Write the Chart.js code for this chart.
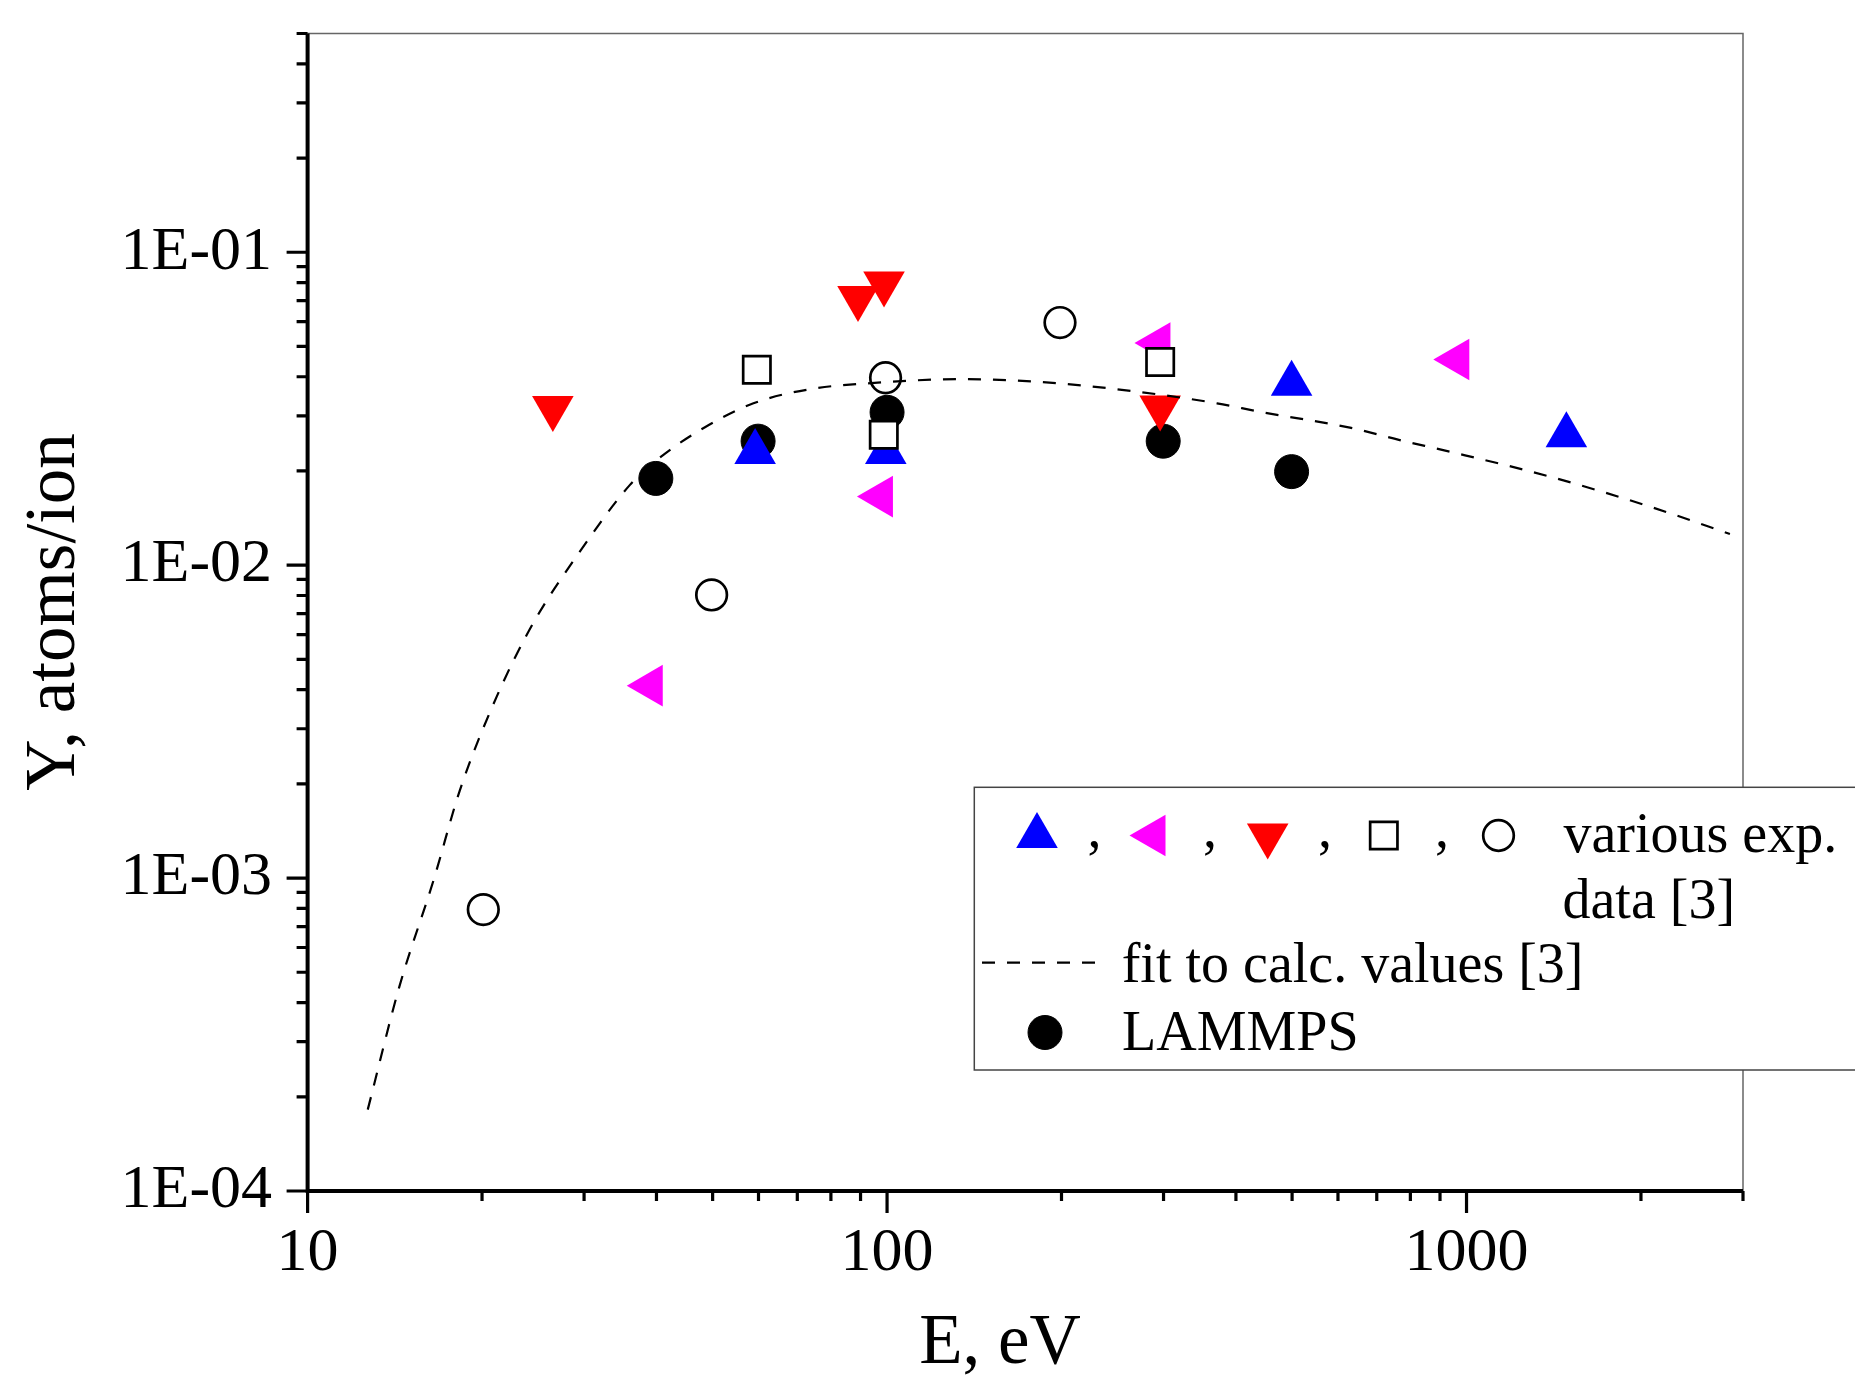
<!DOCTYPE html>
<html>
<head>
<meta charset="utf-8">
<script src="https://cdn.jsdelivr.net/npm/chart.js@4.4.1/dist/chart.umd.min.js"></script>
<style>
  html, body { margin: 0; padding: 0; background: #ffffff; }
  #c { display: block; background: #ffffff; }
</style>
</head>
<body>
<canvas id="c" width="1855" height="1376"></canvas>
<script>
// ---------------- data ----------------
const xTickValues = [10, 100, 1000];
const xTickLabels = ['10', '100', '1000'];
const yTickValues = [1e-4, 1e-3, 1e-2, 1e-1];
const yTickLabels = ['1E-04', '1E-03', '1E-02', '1E-01'];
const xTitle = 'E, eV';
const yTitle = 'Y, atoms/ion';

// experimental series (various exp. data [3])
const exp1E = [59.2, 99.5, 499, 1487];          // blue up-triangles
const exp1Y = [0.023, 0.023, 0.038, 0.026];
const exp2E = [39.1, 97.6, 294, 964];           // magenta left-triangles
const exp2Y = [0.00412, 0.01656, 0.0513, 0.0454];
const exp3E = [26.5, 89.1, 98.8, 296];          // red down-triangles
const exp3Y = [0.0318, 0.0714, 0.0794, 0.0319];
const exp4E = [59.6, 98.7, 296];                // open squares
const exp4Y = [0.0421, 0.0261, 0.0446];
const exp5E = [20.1, 49.8, 99.4, 198.8];        // open circles
const exp5Y = [0.000793, 0.00803, 0.0397, 0.0596];

// LAMMPS
const lammpsE = [39.9, 59.9, 100, 299.6, 499];
const lammpsY = [0.01893, 0.0249, 0.0308, 0.0249, 0.0199];

// fit to calc. values [3]
const fitE = [12.7, 14.4, 16.5, 18.3, 21.2, 24.5, 29.5, 36.0, 40.4, 48.5, 58.8, 73.6, 98.5, 134, 179, 249, 371, 440, 629, 767, 936, 1393, 2073, 2848];
const fitY = [0.000182, 0.00045, 0.000986, 0.0019, 0.0038, 0.00652, 0.01105, 0.01805, 0.02196, 0.0276, 0.0329, 0.0365, 0.0384, 0.0393, 0.0386, 0.0365, 0.0329, 0.0309, 0.0275, 0.0251, 0.02305, 0.01918, 0.01538, 0.01258];

const legendExpText = ['various exp.', 'data [3]'];
const legendFitText = 'fit to calc. values [3]';
const legendLammpsText = 'LAMMPS';

// ---------------- styles ----------------
const FONT = "'Times New Roman', 'Liberation Serif', serif";
const pts = (xs, ys) => xs.map((x, i) => ({ x: x, y: ys[i] }));

const styleBlue    = { pointStyle: 'triangle', rotation: 0,   radius: 24,   fill: '#0000ff', stroke: '#0000ff', bw: 0 };
const styleMagenta = { pointStyle: 'triangle', rotation: -90, radius: 24,   fill: '#ff00ff', stroke: '#ff00ff', bw: 0 };
const styleRed     = { pointStyle: 'triangle', rotation: 180, radius: 24,   fill: '#ff0000', stroke: '#ff0000', bw: 0 };
const styleSquare  = { pointStyle: 'rect',     rotation: 0,   radius: 19.3, fill: '#ffffff', stroke: '#000000', bw: 2.7 };
const styleCircle  = { pointStyle: 'circle',   rotation: 0,   radius: 15.3, fill: '#ffffff', stroke: '#000000', bw: 2.7 };
const styleLammps  = { pointStyle: 'circle',   rotation: 0,   radius: 17,   fill: '#000000', stroke: '#000000', bw: 1 };

function scatterSet(label, data, st, order) {
  return {
    label: label, data: data, order: order, showLine: false,
    pointStyle: st.pointStyle, pointRotation: st.rotation, pointRadius: st.radius,
    pointHoverRadius: st.radius, pointBackgroundColor: st.fill, pointBorderColor: st.stroke,
    pointBorderWidth: st.bw, pointHoverBorderWidth: st.bw
  };
}

const DASH = [13, 12];

// ---------------- plugins ----------------
function decadeTicks(min, max) {
  const out = [];
  const e0 = Math.floor(Math.log10(min) + 1e-9);
  const e1 = Math.ceil(Math.log10(max) - 1e-9);
  for (let e = e0; e <= e1; e++) {
    for (let m = 1; m <= 9; m++) {
      const v = m * Math.pow(10, e);
      if (v >= min * 0.9999 && v <= max * 1.0001) out.push({ v: v, major: m === 1 });
    }
  }
  return out;
}

const plotFrame = {
  id: 'plotFrame',
  afterDatasetsDraw(chart) {
    const ctx = chart.ctx, a = chart.chartArea;
    const xs = chart.scales.x, ys = chart.scales.y;
    ctx.save();
    ctx.lineCap = 'butt';
    // thin top / right frame
    ctx.strokeStyle = '#666666';
    ctx.lineWidth = 1.5;
    ctx.beginPath();
    ctx.moveTo(a.left, a.top);
    ctx.lineTo(a.right, a.top);
    ctx.lineTo(a.right, a.bottom);
    ctx.stroke();
    // thick axes
    ctx.strokeStyle = '#000000';
    ctx.lineWidth = 4;
    ctx.beginPath();
    ctx.moveTo(a.left, a.top);
    ctx.lineTo(a.left, a.bottom + 2);
    ctx.moveTo(a.left - 2, a.bottom);
    ctx.lineTo(a.right, a.bottom);
    ctx.stroke();
    // tick marks (outward)
    ctx.lineWidth = 3.2;
    ctx.beginPath();
    decadeTicks(xs.min, xs.max).forEach(t => {
      const px = xs.getPixelForValue(t.v);
      ctx.moveTo(px, a.bottom);
      ctx.lineTo(px, a.bottom + (t.major ? 22 : 10));
    });
    decadeTicks(ys.min, ys.max).forEach(t => {
      const py = ys.getPixelForValue(t.v);
      ctx.moveTo(a.left, py);
      ctx.lineTo(a.left - (t.major ? 21 : 11), py);
    });
    ctx.stroke();
    ctx.restore();
  },
  afterDraw(chart) {
    const ctx = chart.ctx;
    ctx.save();
    ctx.fillStyle = '#000000';
    ctx.font = '71px ' + FONT;
    ctx.textAlign = 'center';
    ctx.textBaseline = 'alphabetic';
    ctx.fillText(xTitle, 1000, 1363);
    ctx.translate(74, 612);
    ctx.rotate(-Math.PI / 2);
    ctx.fillText(yTitle, 0, 0);
    ctx.restore();
  }
};

function drawSymbol(ctx, st, x, y) {
  ctx.save();
  ctx.fillStyle = st.fill;
  ctx.strokeStyle = st.stroke;
  ctx.lineWidth = st.bw;
  Chart.helpers.drawPoint(ctx, { pointStyle: st.pointStyle, rotation: st.rotation, radius: st.radius, borderWidth: st.bw }, x, y);
  ctx.restore();
}

const customLegend = {
  id: 'customLegend',
  afterDraw(chart) {
    const ctx = chart.ctx;
    ctx.save();
    // box (extends beyond the right edge of the picture)
    ctx.fillStyle = '#ffffff';
    ctx.fillRect(974.3, 787.3, 1000, 282.7);
    ctx.strokeStyle = '#444444';
    ctx.lineWidth = 1.5;
    ctx.strokeRect(974.3, 787.3, 1000, 282.7);

    // row 1: symbols separated by commas
    const rowY = 835.5;
    drawSymbol(ctx, styleBlue, 1037, rowY + 0.5);
    drawSymbol(ctx, styleMagenta, 1153.5, rowY);
    drawSymbol(ctx, styleRed, 1267.7, rowY);
    drawSymbol(ctx, styleSquare, 1383.8, rowY);
    drawSymbol(ctx, styleCircle, 1498.5, rowY);

    ctx.fillStyle = '#000000';
    ctx.font = '56px ' + FONT;
    ctx.textBaseline = 'alphabetic';
    ctx.textAlign = 'center';
    [1094.5, 1210, 1325, 1442].forEach(cx => ctx.fillText(',', cx, 847));

    ctx.textAlign = 'left';
    ctx.fillText(legendExpText[0], 1563.5, 852);
    ctx.fillText(legendExpText[1], 1562.5, 918);
    ctx.fillText(legendFitText, 1121.7, 982);
    ctx.fillText(legendLammpsText, 1122, 1050);

    // dashed line sample
    ctx.strokeStyle = '#000000';
    ctx.lineWidth = 2.2;
    ctx.setLineDash(DASH);
    ctx.beginPath();
    ctx.moveTo(982, 962.7);
    ctx.lineTo(1097, 962.7);
    ctx.stroke();
    ctx.setLineDash([]);

    // LAMMPS symbol
    drawSymbol(ctx, styleLammps, 1045, 1032.5);
    ctx.restore();
  }
};

// ---------------- chart ----------------
const datasets = [
  {
    label: legendFitText, data: pts(fitE, fitY), order: 0, showLine: true,
    borderColor: '#000000', borderWidth: 2.2, borderDash: DASH, pointRadius: 0, pointHoverRadius: 0,
    cubicInterpolationMode: 'monotone', fill: false
  },
  scatterSet('exp. data 5', pts(exp5E, exp5Y), styleCircle, 1),
  scatterSet('exp. data 4', pts(exp4E, exp4Y), styleSquare, 2),
  scatterSet('exp. data 3', pts(exp3E, exp3Y), styleRed, 3),
  scatterSet('exp. data 2', pts(exp2E, exp2Y), styleMagenta, 4),
  scatterSet('exp. data 1', pts(exp1E, exp1Y), styleBlue, 5),
  scatterSet(legendLammpsText, pts(lammpsE, lammpsY), styleLammps, 6)
];

new Chart(document.getElementById('c'), {
  type: 'scatter',
  data: { datasets: datasets },
  options: {
    responsive: false,
    maintainAspectRatio: false,
    devicePixelRatio: 1,
    animation: false,
    events: [],
    layout: { padding: { top: 33.5, right: 112, bottom: 0, left: 0 } },
    plugins: {
      legend: { display: false },
      tooltip: { enabled: false },
      title: { display: false }
    },
    scales: {
      x: {
        type: 'logarithmic', position: 'bottom', min: 10, max: 3000,
        afterBuildTicks: s => { s.ticks = xTickValues.map(v => ({ value: v })); },
        afterFit: s => { s.height = 185; s.paddingLeft = 0; s.paddingRight = 0; },
        grid: { display: false, drawTicks: false, drawOnChartArea: false },
        border: { display: false },
        title: { display: false },
        ticks: {
          autoSkip: false, maxRotation: 0, minRotation: 0, padding: 25.5, color: '#000000',
          font: { family: FONT, size: 62 },
          callback: v => { const i = xTickValues.indexOf(v); return i >= 0 ? xTickLabels[i] : ''; }
        }
      },
      y: {
        type: 'logarithmic', position: 'left', min: 1e-4, max: 0.5,
        afterBuildTicks: s => { s.ticks = yTickValues.map(v => ({ value: v })); },
        afterFit: s => { s.width = 307.6; s.paddingTop = 0; s.paddingBottom = 0; },
        grid: { display: false, drawTicks: false, drawOnChartArea: false },
        border: { display: false },
        title: { display: false },
        ticks: {
          autoSkip: false, padding: 35.5, color: '#000000',
          font: { family: FONT, size: 62 },
          callback: v => { const i = yTickValues.findIndex(t => Math.abs(t - v) / t < 1e-6); return i >= 0 ? yTickLabels[i] : ''; }
        }
      }
    }
  },
  plugins: [plotFrame, customLegend]
});
</script>
</body>
</html>
